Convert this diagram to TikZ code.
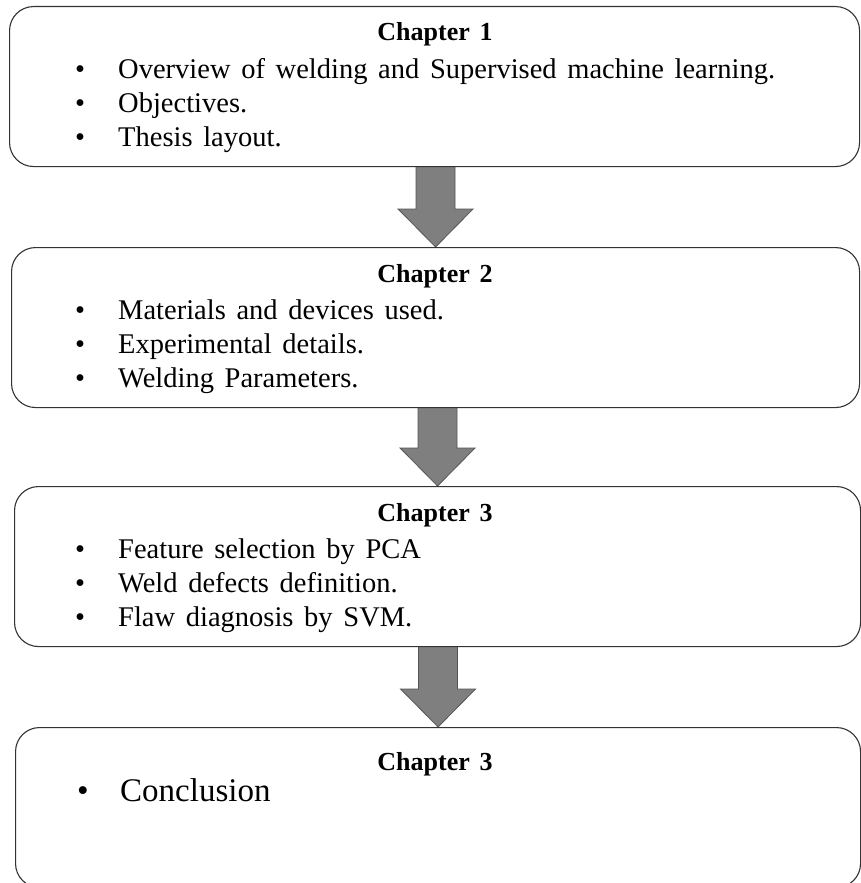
\documentclass[tikz,border=0pt]{standalone}
\usepackage{fontspec}
\setmainfont{Liberation Serif}[WordSpace=1.5]
\usetikzlibrary{calc,backgrounds}
\definecolor{arrowfill}{HTML}{7F7F7F}
\definecolor{arrowline}{HTML}{555555}
\definecolor{boxline}{HTML}{333333}
\begin{document}
\begin{tikzpicture}[x=1pt,y=-1pt,
  chapbox/.style={draw=boxline, line width=1.1pt, rounded corners=24pt, fill=white,
    inner sep=0pt, anchor=north west, minimum height=160pt},
  head/.style={font=\fontsize{26}{26}\selectfont\bfseries, anchor=base, inner sep=0pt},
  bul/.style={font=\fontsize{28.5}{28.5}\selectfont, anchor=base, inner sep=0pt},
  item/.style={font=\fontsize{28.5}{28.5}\selectfont, anchor=base west, inner sep=0pt},
  bigbul/.style={font=\fontsize{33}{33}\selectfont, anchor=base, inner sep=0pt},
  bigitem/.style={font=\fontsize{33}{33}\selectfont, anchor=base west, inner sep=0pt},
  blockarrow/.style={fill=arrowfill, draw=arrowline, line width=0.8pt}]
\clip (0,0) rectangle (861,883);

\node[chapbox, minimum width=850pt] (b1) at (9,6) {};
\node[chapbox, minimum width=848pt] (b2) at (11,247) {};
\node[chapbox, minimum width=846pt] (b3) at (14,486) {};
\node[chapbox, minimum width=845pt] (b4) at (15,727) {};

\begin{scope}[on background layer]
\foreach \a/\b in {b1/b2, b2/b3, b3/b4}{
  \draw[blockarrow]
    ($(\a.south -| \b.north)+(-19.5,-2)$) -- ($(\a.south -| \b.north)+(19.5,-2)$)
    -- ($(\b.north)+(19.5,-38)$) -- ($(\b.north)+(37.5,-38)$)
    -- (\b.north) -- ($(\b.north)+(-37.5,-38)$)
    -- ($(\b.north)+(-19.5,-38)$) -- cycle;
}
\end{scope}

% Box 1
\node[head] (h1) at (435,41) {Chapter 1};
\node[bul] (p11) at (80,78) {•};
\node[item] (t11) at (118,78) {Overview of welding and Supervised machine learning.};
\node[bul] (p12) at (80,112) {•};
\node[item] (t12) at (118,112) {Objectives.};
\node[bul] (p13) at (80,146) {•};
\node[item] (t13) at (118,146) {Thesis layout.};

% Box 2
\node[head] (h2) at (435,282) {Chapter 2};
\node[bul] (p21) at (80,319) {•};
\node[item] (t21) at (118,319) {Materials and devices used.};
\node[bul] (p22) at (80,353) {•};
\node[item] (t22) at (118,353) {Experimental details.};
\node[bul] (p23) at (80,387) {•};
\node[item] (t23) at (118,387) {Welding Parameters.};

% Box 3
\node[head] (h3) at (435,521) {Chapter 3};
\node[bul] (p31) at (80,558) {•};
\node[item] (t31) at (118,558) {Feature selection by PCA};
\node[bul] (p32) at (80,592) {•};
\node[item] (t32) at (118,592) {Weld defects definition.};
\node[bul] (p33) at (80,626) {•};
\node[item] (t33) at (118,626) {Flaw diagnosis by SVM.};

% Box 4
\node[head] (h4) at (435,770) {Chapter 3};
\node[bigbul] (p41) at (83,801) {•};
\node[bigitem] (t41) at (120,801) {Conclusion};
\end{tikzpicture}
\end{document}
